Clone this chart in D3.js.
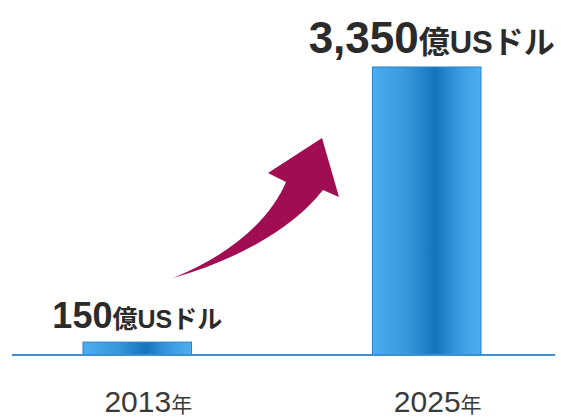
<!DOCTYPE html>
<html>
<head>
<meta charset="utf-8">
<script src="https://cdn.jsdelivr.net/npm/d3@7"></script>
<style>
  html, body { margin: 0; padding: 0; background: #fff; }
  svg { display: block; }
</style>
</head>
<body>
<div id="chart"></div>
<script>
// データ
const years = ['2013', '2025'];
const values = [150, 3350];
const valueLabels = ['150', '3,350'];
const unitLabel = '億USドル';
const yearSuffix = '年';

const width = 561, height = 420;
const baseY = 355, topY = 67;

const svg = d3.select('#chart')
  .append('svg')
  .attr('width', width)
  .attr('height', height);

// グラデーション
const defs = svg.append('defs');
const grad = defs.append('linearGradient')
  .attr('id', 'barGrad')
  .attr('x1', '0%').attr('x2', '100%')
  .attr('y1', '0%').attr('y2', '0%');
grad.append('stop').attr('offset', '0%').attr('stop-color', '#4cadef');
grad.append('stop').attr('offset', '30%').attr('stop-color', '#3a98dc');
grad.append('stop').attr('offset', '58%').attr('stop-color', '#1674bd');
grad.append('stop').attr('offset', '80%').attr('stop-color', '#3c9be0');
grad.append('stop').attr('offset', '100%').attr('stop-color', '#4db0f2');

const x = d3.scaleBand()
  .domain(years)
  .range([83, 481])
  .paddingInner(0.625)
  .paddingOuter(0);

const y = d3.scaleLinear()
  .domain([0, d3.max(values)])
  .range([baseY, topY]);

const data = years.map((yr, i) => ({ year: yr, value: values[i], label: valueLabels[i] }));

// 棒
svg.append('g')
  .attr('class', 'bars')
  .selectAll('rect')
  .data(data)
  .enter()
  .append('rect')
  .attr('x', d => x(d.year))
  .attr('y', d => y(d.value))
  .attr('width', x.bandwidth())
  .attr('height', d => y(0) - y(d.value))
  .attr('fill', 'url(#barGrad)')
  .attr('stroke', '#2a80cc')
  .attr('stroke-width', 1);

// 基線
svg.append('line')
  .attr('x1', 12).attr('x2', 555)
  .attr('y1', y(0)).attr('y2', y(0))
  .attr('stroke', '#3b8fd4')
  .attr('stroke-width', 2);

// 値ラベル
const fontFam = '"Liberation Sans", "Noto Sans CJK JP", sans-serif';
const sizes = [36, 44];
const valText = svg.append('g')
  .attr('class', 'value-labels')
  .selectAll('text')
  .data(data)
  .enter()
  .append('text')
  .attr('x', (d, i) => x(d.year) + x.bandwidth() / 2 + (i === 1 ? 5 : 0))
  .attr('y', d => y(d.value) - 14)
  .attr('text-anchor', 'middle')
  .attr('font-family', fontFam)
  .attr('font-weight', 'bold')
  .attr('fill', '#2b2b2b');
valText.append('tspan')
  .attr('font-size', (d, i) => sizes[i] + 'px')
  .text(d => d.label);
valText.append('tspan')
  .attr('font-size', (d, i) => Math.round(sizes[i] * 0.7) + 'px')
  .text(unitLabel);

// 年ラベル
const yearText = svg.append('g')
  .attr('class', 'year-labels')
  .selectAll('text')
  .data(data)
  .enter()
  .append('text')
  .attr('x', d => x(d.year) + x.bandwidth() / 2 + 11)
  .attr('y', 412)
  .attr('text-anchor', 'middle')
  .attr('font-family', fontFam)
  .attr('fill', '#3a3a3a');
yearText.append('tspan')
  .attr('font-size', '30px')
  .text(d => d.year);
yearText.append('tspan')
  .attr('font-size', '21px')
  .text(yearSuffix);

// 矢印
svg.append('path')
  .attr('d', 'M173,278 C230,262 290,232 323,190 L339,197 L322,138 L268,173 L286,182 C270,220 230,255 173,278 Z')
  .attr('fill', '#a00d52');
</script>
</body>
</html>
